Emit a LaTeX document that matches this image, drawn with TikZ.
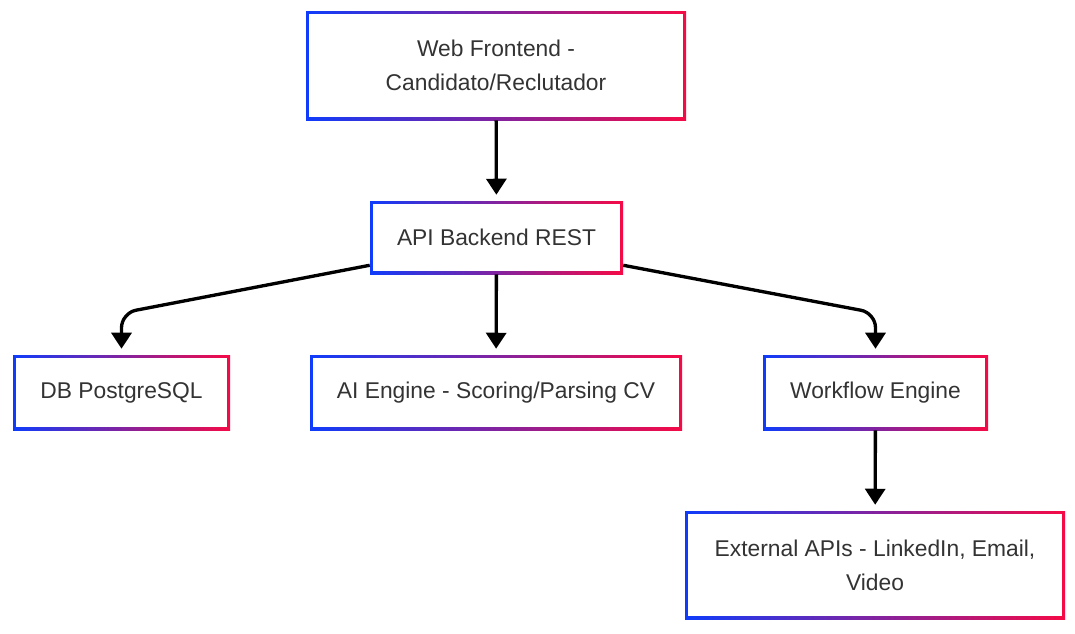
\documentclass[tikz,border=0pt]{standalone}
\usepackage{fontspec}
\setmainfont{Liberation Sans}
\usetikzlibrary{arrows.meta,calc}
\definecolor{gb}{RGB}{15,60,250}
\definecolor{gr}{RGB}{245,10,70}
\definecolor{txt}{RGB}{51,51,51}
\tikzset{
  gbox/.style={rectangle, inner sep=0pt, fill=white, text=txt, align=center,
    font=\fontsize{17.1}{25.5}\selectfont,
    path picture={
      \shade[left color=gb, right color=gr] (path picture bounding box.south west) rectangle (path picture bounding box.north east);
      \fill[white] ([shift={(2.3pt,2.3pt)}]path picture bounding box.south west) rectangle ([shift={(-2.3pt,-2.3pt)}]path picture bounding box.north east);
    }},
  shadowbox/.style={fill=black, opacity=0.07},
  arr/.style={line width=2.5pt, -{Triangle[width=15pt,length=12pt]}, shorten >=4.5pt},
}
\begin{document}
\begin{tikzpicture}[x=0.75pt, y=-0.75pt]
\useasboundingbox (0,0) rectangle (1075,633);
\node[gbox, minimum width=285pt, minimum height=81.75pt] (web) at (496,65.5) {Web Frontend -\\Candidato/Reclutador};
\node[gbox, minimum width=189.75pt, minimum height=54.75pt] (api) at (496.5,237.5) {API Backend REST};
\node[gbox, minimum width=162.75pt, minimum height=56.25pt] (db) at (121.5,392.5) {DB PostgreSQL};
\node[gbox, minimum width=279pt, minimum height=56.25pt] (ai) at (496,392.5) {AI Engine - Scoring/Parsing CV};
\node[gbox, minimum width=168.75pt, minimum height=56.25pt] (wf) at (875.5,392.5) {Workflow Engine};
\node[gbox, minimum width=285pt, minimum height=81pt] (ext) at (875,565) {External APIs - LinkedIn, Email,\\Video};
\coordinate (kl) at (121.5,313);
\coordinate (kr) at (875.5,313);
\draw[arr] (web) -- (api);
\draw[arr] (api) -- (ai);
\draw[arr, rounded corners=11pt] ($(api.south west)+(0,-9)$) -- (kl) -- (db.north);
\draw[arr, rounded corners=11pt] ($(api.south east)+(0,-9)$) -- (kr) -- (wf.north);
\draw[arr] (wf) -- (ext);
\end{tikzpicture}
\end{document}
